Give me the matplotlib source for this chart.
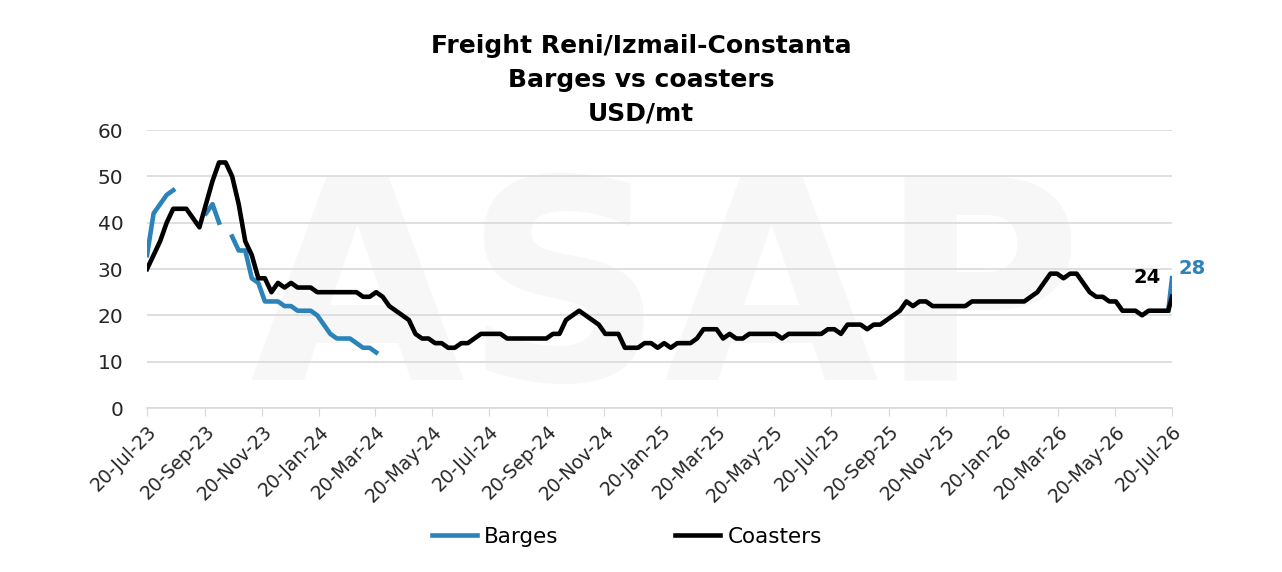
import matplotlib
matplotlib.use("Agg")
import matplotlib.pyplot as plt
import matplotlib.dates as mdates
import numpy as np
import pandas as pd

# weekly observations from 20-Jul-23, plus the last print on 20-Jul-26
dates = list(pd.date_range("2023-07-20", periods=157, freq="7D")) + [pd.Timestamp("2026-07-20")]

nan = np.nan
barges = [33, 42, 44, 46, 47, nan, nan, nan, nan, 42, 44, 40, nan,
          37, 34, 34, 28, 27, 23, 23, 23, 22, 22, 21, 21, 21, 20, 18,
          16, 15, 15, 15, 14, 13, 13, 12]
barges = barges + [nan] * (156 - len(barges)) + [21, 28]

coasters = [30, 33, 36, 40, 43, 43, 43, 41, 39, 44, 49, 53, 53, 50, 44, 36,
            33, 28, 28, 25, 27, 26, 27, 26, 26, 26, 25, 25, 25, 25, 25, 25,
            25, 24, 24, 25, 24, 22, 21, 20, 19, 16, 15, 15, 14, 14, 13, 13,
            14, 14, 15, 16, 16, 16, 16, 15, 15, 15, 15, 15, 15, 15, 16, 16,
            19, 20, 21, 20, 19, 18, 16, 16, 16, 13, 13, 13, 14, 14, 13, 14,
            13, 14, 14, 14, 15, 17, 17, 17, 15, 16, 15, 15, 16, 16, 16, 16,
            16, 15, 16, 16, 16, 16, 16, 16, 17, 17, 16, 18, 18, 18, 17, 18,
            18, 19, 20, 21, 23, 22, 23, 23, 22, 22, 22, 22, 22, 22, 23, 23,
            23, 23, 23, 23, 23, 23, 23, 24, 25, 27, 29, 29, 28, 29, 29, 27,
            25, 24, 24, 23, 23, 21, 21, 21, 20, 21, 21, 21, 21, 24]

title = "Freight Reni/Izmail-Constanta\nBarges vs coasters\nUSD/mt"
blue = "#2B83BA"

plt.rcParams["font.family"] = ["DejaVu Sans"]

fig = plt.figure(figsize=(12.82, 5.72), dpi=100)
ax = fig.add_axes([0.1147, 0.2867, 0.7995, 0.486])

# faint watermark behind everything
ax.text(0.52, 0.47, "ASAP", transform=fig.transFigure, fontsize=200, fontweight="bold",
        color="#f7f7f7", ha="center", va="center", zorder=0)

ax.plot(dates, barges, color=blue, lw=3.3, label="Barges", zorder=3)
ax.plot(dates, coasters, color="black", lw=3.3, label="Coasters", zorder=3)

ax.set_ylim(0, 60)
ax.set_yticks(range(0, 61, 10))
ax.set_xlim(pd.Timestamp("2023-07-20"), pd.Timestamp("2026-07-20"))
ticks = pd.date_range("2023-07-01", "2026-07-01", freq="2MS") + pd.Timedelta(days=19)
ax.set_xticks(ticks)
ax.xaxis.set_major_formatter(mdates.DateFormatter("%d-%b-%y"))
plt.setp(ax.get_xticklabels(), rotation=45, ha="right", rotation_mode="anchor")

ax.grid(axis="y", color="#d9d9d9", lw=1.2, zorder=1)
for s in ["top", "right", "left"]:
    ax.spines[s].set_visible(False)
ax.spines["bottom"].set_color("#d9d9d9")
ax.spines["bottom"].set_linewidth(1.2)
ax.tick_params(axis="y", length=0, labelsize=14.5, colors="#262626", pad=17)
ax.tick_params(axis="x", length=6, color="#d9d9d9", labelsize=13.5, labelcolor="#262626", pad=4)

ax.annotate(str(coasters[-1]), (dates[-1], coasters[-1]), xytext=(-28, 10),
            textcoords="offset points", fontsize=14, fontweight="bold", color="black")
ax.annotate(str(barges[-1]), (dates[-1], barges[-1]), xytext=(5, 3),
            textcoords="offset points", fontsize=14, fontweight="bold", color=blue)

fig.suptitle(title, y=0.94, fontsize=18, fontweight="bold", linespacing=1.5)
fig.legend(loc="center", bbox_to_anchor=(0.489, 0.062), ncol=2, frameon=False,
           fontsize=15.5, columnspacing=5.4, handlelength=2.1, handletextpad=0.35)

fig.savefig("out.png", dpi=100)
